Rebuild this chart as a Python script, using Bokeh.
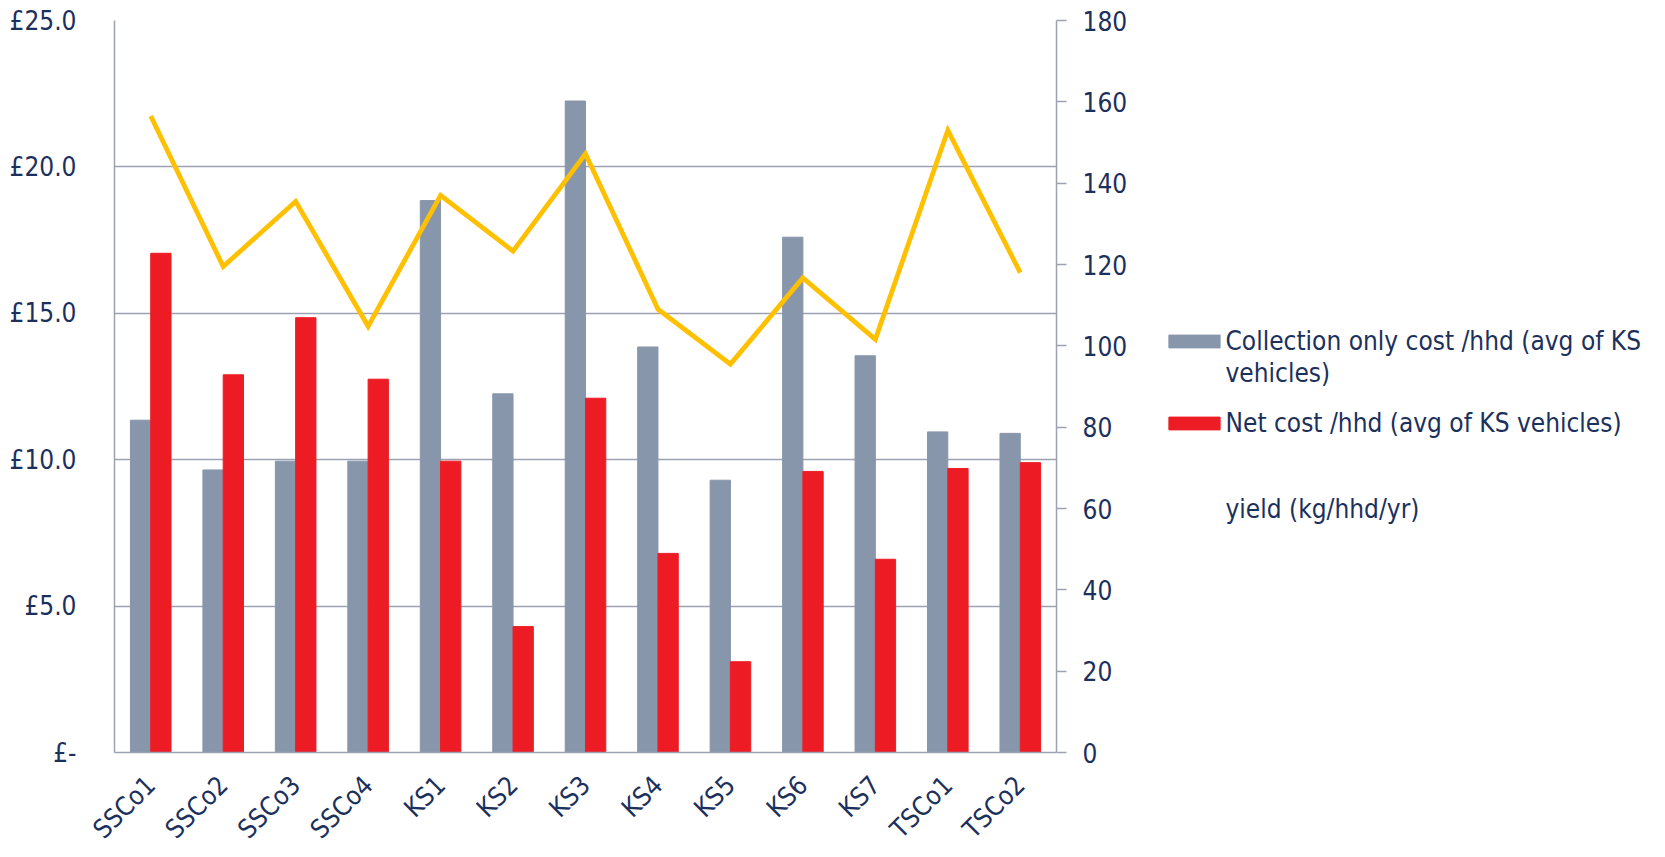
from math import pi

from bokeh.embed import file_html
from bokeh.layouts import row
from bokeh.models import (ColumnDataSource, FactorRange, FixedTicker, Legend,
                          LegendItem, LinearAxis, Range1d)
from bokeh.plotting import figure
from bokeh.resources import INLINE
from bokeh.transform import dodge

# Scheme sites along the x axis
sites = ["SSCo1", "SSCo2", "SSCo3", "SSCo4", "KS1", "KS2", "KS3",
         "KS4", "KS5", "KS6", "KS7", "TSCo1", "TSCo2"]

# Cost per household (£), averaged over KS vehicles
collection_cost = [11.35, 9.65, 9.95, 9.95, 18.85, 12.25, 22.25,
                   13.85, 9.3, 17.6, 13.55, 10.95, 10.9]
net_cost = [17.05, 12.9, 14.85, 12.75, 9.95, 4.3, 12.1,
            6.8, 3.1, 9.6, 6.6, 9.7, 9.9]

# Yield (kg per household per year), right-hand axis
yield_kg = [156.5, 119.5, 135.5, 104.8, 137.0, 123.3, 147.2,
            109.0, 95.5, 116.7, 101.6, 153.0, 118.0]

cost_ticks = [0, 5, 10, 15, 20, 25]
cost_tick_labels = ["£-", "£5.0", "£10.0", "£15.0", "£20.0", "£25.0"]
yield_ticks = [0, 20, 40, 60, 80, 100, 120, 140, 160, 180]

legend_labels = ["Collection only cost /hhd (avg of KS", "vehicles)",
                 "Net cost /hhd (avg of KS vehicles)",
                 "yield (kg/hhd/yr)"]

FONT = "DejaVu Sans Condensed"
TEXT = "#1c305c"
AXIS = "#9da2b3"
GREY = "#8896ab"
RED = "#ed1c24"
GOLD = "#ffc000"

src = ColumnDataSource(dict(site=sites, collection=collection_cost,
                            net=net_cost, yld=yield_kg))

# ---- main chart -----------------------------------------------------------
p = figure(x_range=FactorRange(*sites, range_padding=0),
           y_range=Range1d(0, 25),
           width=1130, height=857,
           output_backend="svg", toolbar_location=None,
           min_border_left=114, min_border_right=73,
           min_border_top=20, min_border_bottom=102)
p.extra_y_ranges = {"yield": Range1d(0, 180)}
p.outline_line_color = None

bar_w = 0.28
p.vbar(x=dodge("site", -bar_w / 2, range=p.x_range), top="collection",
       width=bar_w, source=src, fill_color=GREY, line_color=GREY)
p.vbar(x=dodge("site", bar_w / 2, range=p.x_range), top="net",
       width=bar_w, source=src, fill_color=RED, line_color=RED)
p.line(x="site", y="yld", source=src, y_range_name="yield",
       line_color=GOLD, line_width=4.8, line_join="miter")

# left cost axis
yl = p.yaxis[0]
yl.ticker = FixedTicker(ticks=cost_ticks)
yl.major_label_overrides = {t: s for t, s in zip(cost_ticks, cost_tick_labels)}
yl.axis_line_color = AXIS
yl.axis_line_width = 1.5
yl.major_tick_line_color = None
yl.minor_tick_line_color = None
yl.major_label_standoff = 32
yl.major_label_text_font = FONT
yl.major_label_text_font_size = "26px"
yl.major_label_text_color = TEXT

# right yield axis
yr = LinearAxis(y_range_name="yield", ticker=FixedTicker(ticks=yield_ticks))
yr.axis_line_color = AXIS
yr.axis_line_width = 1.5
yr.major_tick_line_color = AXIS
yr.major_tick_line_width = 1.5
yr.major_tick_out = 10
yr.major_tick_in = 0
yr.minor_tick_line_color = None
yr.major_label_standoff = 16
yr.major_label_text_font = FONT
yr.major_label_text_font_size = "26px"
yr.major_label_text_color = TEXT
p.add_layout(yr, "right")

# category axis
xa = p.xaxis[0]
xa.axis_line_color = AXIS
xa.axis_line_width = 1.5
xa.major_tick_line_color = None
xa.minor_tick_line_color = None
xa.major_label_orientation = pi / 4
xa.major_label_standoff = 22
xa.major_label_text_font = FONT
xa.major_label_text_font_size = "26px"
xa.major_label_text_color = TEXT

p.xgrid.grid_line_color = None
p.ygrid.ticker = FixedTicker(ticks=cost_ticks)
p.ygrid.grid_line_color = AXIS
p.ygrid.grid_line_width = 1.5

# ---- legend panel -----------------------------------------------------------
q = figure(width=535, height=857, x_range=Range1d(0, 1), y_range=Range1d(0, 1),
           x_axis_type=None, y_axis_type=None,
           output_backend="svg", toolbar_location=None,
           min_border=0)
q.outline_line_color = None
q.xgrid.grid_line_color = None
q.ygrid.grid_line_color = None

# key glyphs sit outside the visible range; only their legend swatches show
k_coll = q.vbar(x=[5], top=[5], bottom=[4], width=0.1,
                fill_color=GREY, line_color=GREY)
k_net = q.vbar(x=[5], top=[5], bottom=[4], width=0.1,
               fill_color=RED, line_color=RED)
k_blank = q.line(x=[5, 6], y=[5, 5], line_color="white", line_width=3,
                 line_alpha=0)
k_yield = q.line(x=[5, 6], y=[5, 5], line_color="white", line_width=3)


def add_key(label, renderer, bottom):
    q.add_layout(Legend(
        items=[LegendItem(label=label, renderers=[renderer])],
        location=(31.5, bottom), padding=0, margin=0, spacing=0,
        border_line_color=None, background_fill_alpha=0,
        glyph_width=64, glyph_height=16, label_height=32, label_standoff=0,
        label_text_font=FONT, label_text_font_size="26px",
        label_text_color=TEXT), "center")


add_key(legend_labels[0], k_coll, 395)
add_key(legend_labels[1], k_blank, 363)
add_key(legend_labels[2], k_net, 313)
add_key(legend_labels[3], k_yield, 227)

layout = row(p, q, spacing=0)

open("out.html", "w").write(file_html(layout, INLINE))
